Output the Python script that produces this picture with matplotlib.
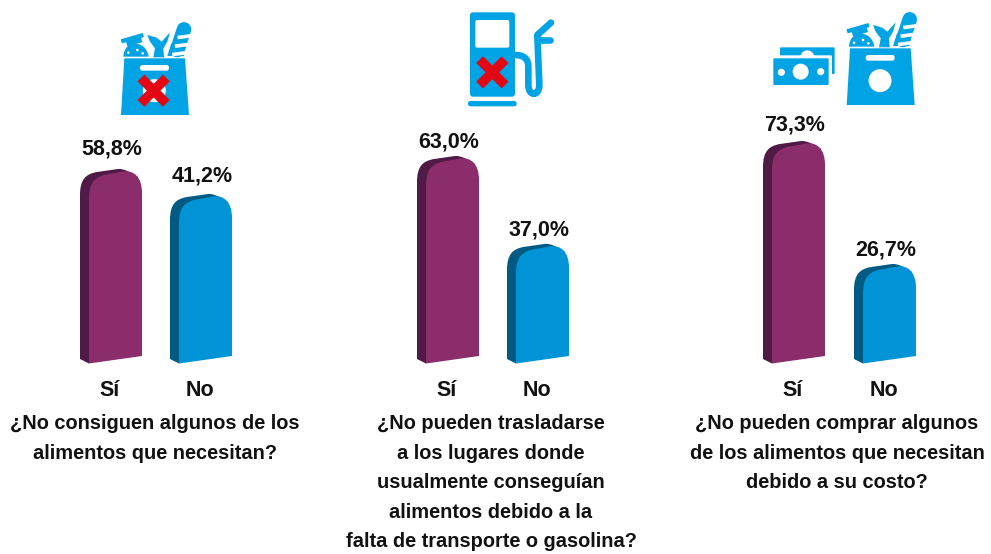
import matplotlib
matplotlib.use('Agg')
import matplotlib.pyplot as plt
from matplotlib.path import Path
from matplotlib.patches import PathPatch, Circle, FancyBboxPatch, Polygon

plt.rcParams['font.family'] = ['Liberation Sans', 'DejaVu Sans']

categories = ['Sí', 'No']
si_values = [58.8, 63.0, 73.3]
no_values = [41.2, 37.0, 26.7]
questions = [
    ['¿No consiguen algunos de los', 'alimentos que necesitan?'],
    ['¿No pueden trasladarse', 'a los lugares donde', 'usualmente conseguían',
     'alimentos debido a la', 'falta de transporte o gasolina?'],
    ['¿No pueden comprar algunos', 'de los alimentos que necesitan', 'debido a su costo?'],
]

W, H = 991, 554
PURPLE, PURPLE_D = '#8b2c6b', '#4f1a46'
BLUE, BLUE_D = '#0094d6', '#005a82'
ICON, RED = '#00a3e4', '#e30613'

# each panel of the original has its own vertical scale (px per percent)
scales = [1.42, 3.38, 2.64]
anchor_px = [169, 156, 141]      # pixel row of the top of the Sí bar
bar_left = [(80, 170), (417, 507), (763, 854)]
label_gap = [(15, 12), (8.5, 8.5), (11, 9)]
question_x = [155, 491, 837]
BASE = 363.5

fig = plt.figure(figsize=(W / 100, H / 100), dpi=100, facecolor='white')


def v_px(v, ax):
    # value -> pixel row from the axes limits
    y0, y1 = ax.get_ylim()
    return H * (y1 - v) / (y1 - y0)


def bar3d(ax, x0, v, s, col, dark):
    def p(dx, dy):
        return (x0 + dx, v - dy / s)
    bot = v - (BASE - v_px(v, ax)) / s

    def b(dx, up=0):
        return (x0 + dx, bot + up / s)
    codes = [Path.MOVETO, Path.LINETO, Path.CURVE4, Path.CURVE4, Path.CURVE4, Path.LINETO,
             Path.CURVE4, Path.CURVE4, Path.CURVE4, Path.LINETO, Path.CLOSEPOLY]
    side = [b(0, 4.5), p(0, 26), p(0, 10), p(6, 5), p(17, 3), p(38, 0),
            p(44, -0.5), p(50, 3), p(58, 8), b(9), b(0, 4.5)]
    ax.add_patch(PathPatch(Path(side, codes), fc=dark, ec='none'))
    front = [b(9), p(9, 30), p(9, 14), p(14, 9), p(24, 6), p(43, 2.5),
             p(54, 1), p(62, 8), p(62, 24), b(62, 7.5), b(9)]
    ax.add_patch(PathPatch(Path(front, codes), fc=col, ec='none'))


for i in range(3):
    ax = fig.add_axes([0, 0, 1, 1], facecolor='none')
    s = scales[i]
    top = si_values[i] + anchor_px[i] / s
    ax.set_xlim(0, W)
    ax.set_ylim(top - H / s, top)
    ax.axis('off')
    for x0, v, col, dark, cat, gap in zip(bar_left[i], [si_values[i], no_values[i]],
                                          [PURPLE, BLUE], [PURPLE_D, BLUE_D], categories, label_gap[i]):
        bar3d(ax, x0, v, s, col, dark)
        lab = f'{v:.1f}%'.replace('.', ',')
        ax.annotate(lab, xy=(x0 + 32, v), xytext=(0, gap * 0.72), textcoords='offset points',
                    ha='center', va='baseline', fontsize=15.5, fontweight='bold', color='#111111')
        ax.annotate(cat, xy=(x0 + 30, 0), xycoords=('data', 'axes fraction'),
                    xytext=(0, (H - 396) * 0.72), textcoords='offset points',
                    ha='center', va='baseline', fontsize=15.5, fontweight='bold', color='#111111')
    for j, line in enumerate(questions[i]):
        row = 429 + j * 29.6
        ax.annotate(line, xy=(question_x[i], 0), xycoords=('data', 'axes fraction'),
                    xytext=(0, (H - row) * 0.72), textcoords='offset points',
                    ha='center', va='baseline', fontsize=14.4, fontweight='bold', color='#111111')

# icons, pixel coordinates
ic = fig.add_axes([0, 0, 1, 1], facecolor='none')
ic.set_xlim(0, W)
ic.set_ylim(H, 0)
ic.axis('off')


def rrect(x0, y0, x1, y1, r, col):
    ic.add_patch(FancyBboxPatch((x0 + r, y0 + r), x1 - x0 - 2 * r, y1 - y0 - 2 * r,
                                boxstyle=f'round,pad={r},rounding_size={r}', fc=col, ec='none'))


def cross(cx, cy):
    for sx in (1, -1):
        ic.plot([cx - 12.7 * sx, cx + 12.7 * sx], [cy - 12.7, cy + 12.7], color=RED, lw=6.9,
                solid_capstyle='butt')


def bag(dx, dy):
    def P(zx, zy):
        return (dx + zx / 3, dy + zy / 3)
    ic.add_patch(Polygon([P(193, 175), P(375, 175), P(387, 345), P(183, 345)], fc=ICON, ec='none'))
    a, b = P(240, 195), P(327, 212)
    rrect(a[0], a[1], b[0], b[1], 2.5, 'white')
    ic.add_patch(Circle(P(283, 272), 11.5, fc='white', ec='none'))
    # bread
    ic.plot(*zip(P(352, 150), P(372, 88)), color=ICON, lw=10.5, solid_capstyle='round')
    ic.add_patch(Polygon([P(322, 168), P(334, 130), P(378, 130), P(372, 168)], fc=ICON, ec='none'))
    for zy, zl in ((112, 358), (138, 350), (163, 342)):
        ic.plot(*zip(P(zl, zy), P(zl + 30, zy - 4)), color='white', lw=2.6)
    # fish
    ic.add_patch(Polygon([P(262, 105), P(290, 113), P(305, 125), P(330, 97), P(322, 125), P(310, 145),
                          P(312, 172), P(280, 172), P(285, 145), P(270, 125)], fc=ICON, ec='none'))
    # can
    ic.plot(*zip(P(184, 124), P(250, 105)), color=ICON, lw=3, solid_capstyle='butt')
    ic.plot(*zip(P(200, 132), P(245, 119)), color=ICON, lw=3.6, solid_capstyle='butt')
    dome = [P(190, 170), P(192, 118), P(258, 118), P(266, 170), P(190, 170)]
    ic.add_patch(PathPatch(Path(dome, [Path.MOVETO, Path.CURVE4, Path.CURVE4, Path.CURVE4, Path.CLOSEPOLY]),
                           fc=ICON, ec='none'))
    for z in ((205, 158), (232, 150), (248, 160)):
        ic.add_patch(Circle(P(*z), 1.3, fc='white', ec='none'))


bag(60, 0)
cross(60 + 281 / 3, 272 / 3)
bag(60 + 725.7, -10)


def Z(zx, zy):
    return (400 + zx / 3, zy / 3)


# fuel pump
a, b = Z(210, 37), Z(345, 290)
rrect(a[0], a[1], b[0], b[1], 3, ICON)
a, b = Z(226, 60), Z(328, 143)
rrect(a[0], a[1], b[0], b[1], 2, 'white')
a, b = Z(204, 303), Z(350, 319)
rrect(a[0], a[1], b[0], b[1], 2.5, ICON)
hose = [Z(345, 165), Z(375, 165), Z(385, 180), Z(385, 200), Z(385, 255), Z(385, 290), Z(418, 290),
        Z(418, 255), Z(412, 105)]
ic.add_patch(PathPatch(Path(hose, [Path.MOVETO, Path.CURVE4, Path.CURVE4, Path.CURVE4, Path.LINETO,
                                   Path.CURVE4, Path.CURVE4, Path.CURVE4, Path.LINETO]),
                       fc='none', ec=ICON, lw=4.8))
ic.plot(*zip(Z(412, 105), Z(453, 68)), color=ICON, lw=4.8, solid_capstyle='round')
ic.plot(*zip(Z(415, 119), Z(449, 119)), color=ICON, lw=4.8, solid_capstyle='round')
cross(400 + 277 / 3, 217 / 3)


def M(zx, zy):
    return (750 + zx / 3, zy / 3)


# money
a, b = M(90, 142), M(254, 222)
rrect(a[0], a[1], b[0], b[1], 1, ICON)
ic.add_patch(Circle(M(172, 172), 7, fc='white', ec='none'))
a, b = M(62, 166), M(246, 264)
rrect(a[0], a[1], b[0], b[1], 1, 'white')
a, b = M(70, 175), M(236, 255)
rrect(a[0], a[1], b[0], b[1], 1, ICON)
ic.add_patch(Circle(M(152, 215), 8, fc='white', ec='none'))
ic.add_patch(Circle(M(94, 217), 3.6, fc='white', ec='none'))
ic.add_patch(Circle(M(212, 215), 3.6, fc='white', ec='none'))

fig.savefig('out.png', dpi=100, facecolor='white')
